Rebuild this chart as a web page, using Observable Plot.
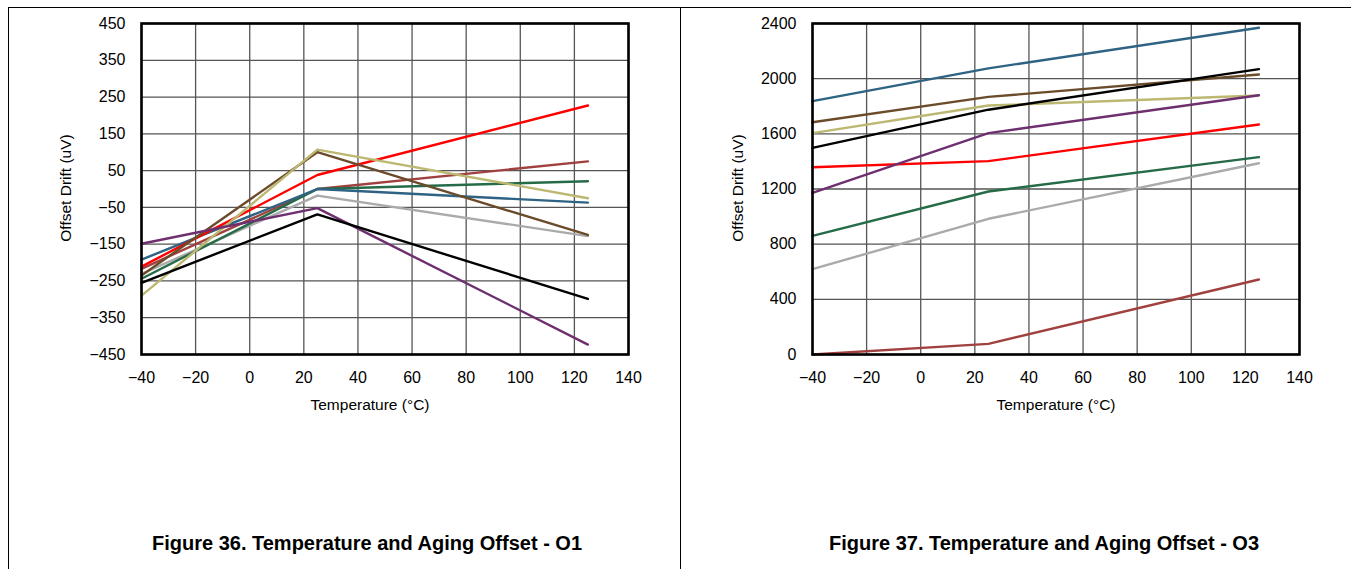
<!DOCTYPE html>
<html>
<head>
<meta charset="utf-8">
<script src="https://cdn.jsdelivr.net/npm/d3@7"></script>
<script src="https://cdn.jsdelivr.net/npm/@observablehq/plot@0.6"></script>
<style>
  html, body { margin: 0; padding: 0; background: #fff; }
  body { width: 1351px; height: 569px; position: relative; overflow: hidden; font-family: "Liberation Sans", Arial, sans-serif; }
  .abs { position: absolute; }
  .chart { position: absolute; top: 0; }
  .xlabel, .ylabel { position: absolute; font-size: 15.5px; color: #000; white-space: nowrap; }
  .ylabel { transform: translate(-50%, -50%) rotate(-90deg); }
  .xlabel { transform: translate(-50%, -50%); }
  .caption { position: absolute; font-size: 20px; font-weight: bold; white-space: nowrap; transform: translate(-50%, -50%); }
</style>
</head>
<body>
<div class="abs" style="left:8px;top:7px;width:1343px;height:0;border-top:1.5px solid #000"></div>
<div class="abs" style="left:8px;top:7px;width:0;height:562px;border-left:1.5px solid #000"></div>
<div class="abs" style="left:680px;top:7px;width:0;height:562px;border-left:1.5px solid #000"></div>
<div id="c1" class="chart" style="left:0px"></div>
<div id="c2" class="chart" style="left:680px"></div>
<div class="ylabel" style="left:66px;top:188px">Offset Drift (uV)</div>
<div class="ylabel" style="left:738px;top:188px">Offset Drift (uV)</div>
<div class="xlabel" style="left:370px;top:405px">Temperature (°C)</div>
<div class="xlabel" style="left:1056px;top:405px">Temperature (°C)</div>
<div class="caption" style="left:367px;top:543px">Figure 36. Temperature and Aging Offset - O1</div>
<div class="caption" style="left:1044px;top:543px">Figure 37. Temperature and Aging Offset - O3</div>
<script>
// Temperatures (°C) at which each series is sampled
const temps = [-40, 25, 125];
const xTicks = [-40, -20, 0, 20, 40, 60, 80, 100, 120, 140];

// Series names and colours
const seriesNames = ["brownred", "gray", "green", "blue", "red", "brown", "khaki", "purple", "black"];
const seriesColors = ["#a0413f", "#aaaaaa", "#256b48", "#2e6383", "#ff0000", "#6b4c2a", "#bcb872", "#6e2f6e", "#000000"];

// Figure 36 (O1) values, uV
const o1Ticks = [-450, -350, -250, -150, -50, 50, 150, 250, 350, 450];
const o1_brownred = [-217, 0, 75];
const o1_gray = [-231, -18, -128];
const o1_green = [-244, 0, 21];
const o1_blue = [-192, 0, -37];
const o1_red = [-211, 38, 227];
const o1_brown = [-235, 100, -125];
const o1_khaki = [-290, 107, -25];
const o1_purple = [-149, -52, -423];
const o1_black = [-255, -69, -299];

// Figure 37 (O3) values, uV
const o3Ticks = [0, 400, 800, 1200, 1600, 2000, 2400];
const o3_brownred = [0, 77, 544];
const o3_gray = [619, 984, 1387];
const o3_green = [860, 1182, 1431];
const o3_blue = [1837, 2075, 2369];
const o3_red = [1358, 1402, 1668];
const o3_brown = [1684, 1868, 2030];
const o3_khaki = [1605, 1805, 1878];
const o3_purple = [1172, 1605, 1880];
const o3_black = [1498, 1775, 2069];

function toRows(seriesArrays) {
  const rows = [];
  seriesNames.forEach((name, i) => {
    seriesArrays[i].forEach((v, j) => rows.push({series: name, t: temps[j], v}));
  });
  return rows;
}

const fmt = (d) => (d < 0 ? "\u2212" + Math.abs(d) : String(d));

function makeChart(rows, yDomain, yTicks, marginLeft, marginRight) {
  return Plot.plot({
    width: marginLeft + 487 + marginRight,
    height: 430,
    marginLeft, marginRight,
    marginTop: 23,
    marginBottom: 76,
    style: {fontFamily: "'Liberation Sans', Arial, sans-serif", fontSize: "16px", color: "#000", background: "transparent"},
    x: {domain: [-40, 140]},
    y: {domain: yDomain},
    color: {domain: seriesNames, range: seriesColors},
    marks: [
      Plot.gridX(xTicks, {stroke: "#555", strokeOpacity: 1, strokeWidth: 1.3}),
      Plot.gridY(yTicks, {stroke: "#555", strokeOpacity: 1, strokeWidth: 1.3}),
      Plot.line(rows, {x: "t", y: "v", z: "series", stroke: "series", strokeWidth: 2.4}),
      Plot.frame({stroke: "#000", strokeWidth: 2.6}),
      Plot.axisX(xTicks, {tickSize: 0, tickPadding: 17, label: null, fontSize: 16, tickFormat: fmt}),
      Plot.axisY(yTicks, {tickSize: 0, tickPadding: 16, label: null, fontSize: 16, tickFormat: fmt})
    ]
  });
}

const rows1 = toRows([o1_brownred, o1_gray, o1_green, o1_blue, o1_red, o1_brown, o1_khaki, o1_purple, o1_black]);
const rows3 = toRows([o3_brownred, o3_gray, o3_green, o3_blue, o3_red, o3_brown, o3_khaki, o3_purple, o3_black]);

document.getElementById("c1").appendChild(makeChart(rows1, [-450, 450], o1Ticks, 141, 52));
document.getElementById("c2").appendChild(makeChart(rows3, [0, 2400], o3Ticks, 132, 52));
</script>
</body>
</html>
